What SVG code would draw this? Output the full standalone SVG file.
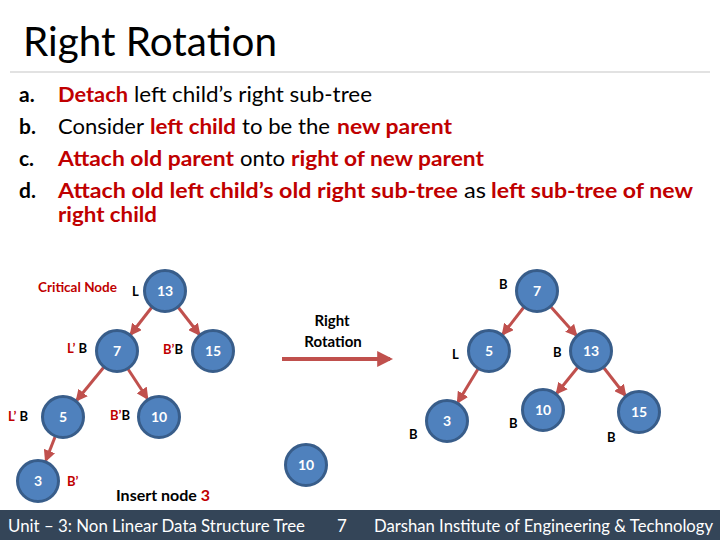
<svg xmlns="http://www.w3.org/2000/svg" width="720" height="540" viewBox="0 0 720 540">
<style>
text{font-family:Lato,"Open Sans","Liberation Sans",sans-serif}
.title{font-size:40px;fill:#000}
.bl{font-size:21px;fill:#000}
.b{font-weight:bold}
.r{fill:#c00000}
.k{fill:#000}
.node circle{fill:#4f81bd;stroke:#385d8a;stroke-width:3}
.node text{fill:#fff;font-weight:bold;font-size:14px;text-anchor:middle}
.lbl{font-size:13px;font-weight:bold}
.edge{stroke:#c0504d;stroke-width:3;fill:none;marker-end:url(#ah)}
.foot{fill:#fff;font-size:17px}
</style>
<defs>
<marker id="ah" viewBox="0 0 10 10" refX="8" refY="5" markerWidth="4" markerHeight="4" orient="auto" markerUnits="strokeWidth">
<path d="M0,0 L10,5 L0,10 z" fill="#c0504d"/>
</marker>
</defs>
<rect width="720" height="540" fill="#fff"/>
<text class="title" x="23" y="56" textLength="254" lengthAdjust="spacingAndGlyphs">Right Rotation</text>
<line x1="10" y1="72" x2="710" y2="72" stroke="#d9d9d9" stroke-width="1.5"/>

<g id="bullets">
<text class="bl b" x="19" y="102">a.</text>
<text class="bl b r" x="58" y="102" textLength="70" lengthAdjust="spacingAndGlyphs">Detach</text>
<text class="bl" x="134" y="102" textLength="238" lengthAdjust="spacingAndGlyphs">left child’s right sub-tree</text>

<text class="bl b" x="19" y="134">b.</text>
<text class="bl" x="58" y="134" textLength="86" lengthAdjust="spacingAndGlyphs">Consider</text>
<text class="bl b r" x="150" y="134" textLength="86" lengthAdjust="spacingAndGlyphs">left child</text>
<text class="bl" x="242" y="134" textLength="88" lengthAdjust="spacingAndGlyphs">to be the</text>
<text class="bl b r" x="337" y="134" textLength="115" lengthAdjust="spacingAndGlyphs">new parent</text>

<text class="bl b" x="19" y="166">c.</text>
<text class="bl b r" x="58" y="166" textLength="176" lengthAdjust="spacingAndGlyphs">Attach old parent</text>
<text class="bl" x="240" y="166" textLength="45" lengthAdjust="spacingAndGlyphs">onto</text>
<text class="bl b r" x="291" y="166" textLength="193" lengthAdjust="spacingAndGlyphs">right of new parent</text>

<text class="bl b" x="19" y="198">d.</text>
<text class="bl b r" x="58" y="198" textLength="400" lengthAdjust="spacingAndGlyphs">Attach old left child’s old right sub-tree</text>
<text class="bl" x="464" y="198" textLength="22" lengthAdjust="spacingAndGlyphs">as</text>
<text class="bl b r" x="491" y="198" textLength="202" lengthAdjust="spacingAndGlyphs">left sub-tree of new</text>
<text class="bl b r" x="58" y="222" textLength="99" lengthAdjust="spacingAndGlyphs">right child</text>
</g>

<g id="connectors">
<line class="edge" x1="152" y1="307" x2="131" y2="334"/>
<line class="edge" x1="178" y1="307" x2="199" y2="334"/>
<line class="edge" x1="104" y1="367" x2="77" y2="400"/>
<line class="edge" x1="128" y1="369" x2="147" y2="398"/>
<line class="edge" x1="55" y1="437" x2="46" y2="460"/>
<line class="edge" x1="524" y1="307" x2="503" y2="334"/>
<line class="edge" x1="551" y1="307" x2="576" y2="335"/>
<line class="edge" x1="478" y1="369" x2="458" y2="402"/>
<line class="edge" x1="578" y1="367" x2="557" y2="393"/>
<line class="edge" x1="604" y1="368" x2="625" y2="395"/>
<line class="edge" x1="282" y1="359" x2="390" y2="359" style="stroke-width:4"/>
</g>

<g id="n13a" class="node"><circle cx="165" cy="291" r="20.5"/><text x="165" y="296">13</text></g>
<g id="n7a" class="node"><circle cx="117" cy="351" r="20.5"/><text x="117" y="356">7</text></g>
<g id="n15a" class="node"><circle cx="213" cy="351" r="20.5"/><text x="213" y="356">15</text></g>
<g id="n5a" class="node"><circle cx="63" cy="417" r="20.5"/><text x="63" y="422">5</text></g>
<g id="n10a" class="node"><circle cx="159" cy="417" r="20.5"/><text x="159" y="422">10</text></g>
<g id="n3a" class="node"><circle cx="38" cy="481" r="20.5"/><text x="38" y="486">3</text></g>
<g id="n10b" class="node"><circle cx="306" cy="465" r="20.5"/><text x="306" y="470">10</text></g>

<g id="n7b" class="node"><circle cx="537" cy="291" r="20.5"/><text x="537" y="296">7</text></g>
<g id="n5b" class="node"><circle cx="489" cy="351" r="20.5"/><text x="489" y="356">5</text></g>
<g id="n13b" class="node"><circle cx="591" cy="351" r="20.5"/><text x="591" y="356">13</text></g>
<g id="n3b" class="node"><circle cx="447" cy="421" r="20.5"/><text x="447" y="426">3</text></g>
<g id="n10c" class="node"><circle cx="543" cy="410" r="20.5"/><text x="543" y="415">10</text></g>
<g id="n15b" class="node"><circle cx="639" cy="412" r="20.5"/><text x="639" y="417">15</text></g>

<g id="labels">
<text class="lbl r" x="38" y="292" textLength="79" lengthAdjust="spacingAndGlyphs">Critical Node</text>
<text class="lbl k" x="132" y="296">L</text>
<text class="lbl" x="67" y="353"><tspan class="r">L’</tspan><tspan class="k"> B</tspan></text>
<text class="lbl" x="163" y="354"><tspan class="r">B’</tspan><tspan class="k">B</tspan></text>
<text class="lbl" x="8" y="421"><tspan class="r">L’</tspan><tspan class="k">  B</tspan></text>
<text class="lbl" x="110" y="420"><tspan class="r">B’</tspan><tspan class="k">B</tspan></text>
<text class="lbl r" x="67" y="486">B’</text>
<text style="font-size:16px;font-weight:bold" x="116" y="501" fill="#000">Insert node <tspan fill="#c00000">3</tspan></text>
<text style="font-size:15px;font-weight:bold;text-anchor:middle" x="332" y="326" fill="#000">Right</text>
<text style="font-size:15px;font-weight:bold;text-anchor:middle" x="333" y="347" fill="#000">Rotation</text>
<text class="lbl k" x="499" y="289">B</text>
<text class="lbl k" x="452" y="359">L</text>
<text class="lbl k" x="553" y="357">B</text>
<text class="lbl k" x="409" y="439">B</text>
<text class="lbl k" x="509" y="428">B</text>
<text class="lbl k" x="607" y="442">B</text>
</g>

<g id="footer">
<rect x="0" y="510" width="720" height="30" fill="#344558"/>
<text class="foot" x="8" y="532" textLength="297" lengthAdjust="spacingAndGlyphs">Unit – 3: Non Linear Data Structure  Tree</text>
<text class="foot" x="337" y="532">7</text>
<text class="foot" x="374" y="532" textLength="339" lengthAdjust="spacingAndGlyphs">Darshan Institute of Engineering &amp; Technology</text>
</g>
</svg>
